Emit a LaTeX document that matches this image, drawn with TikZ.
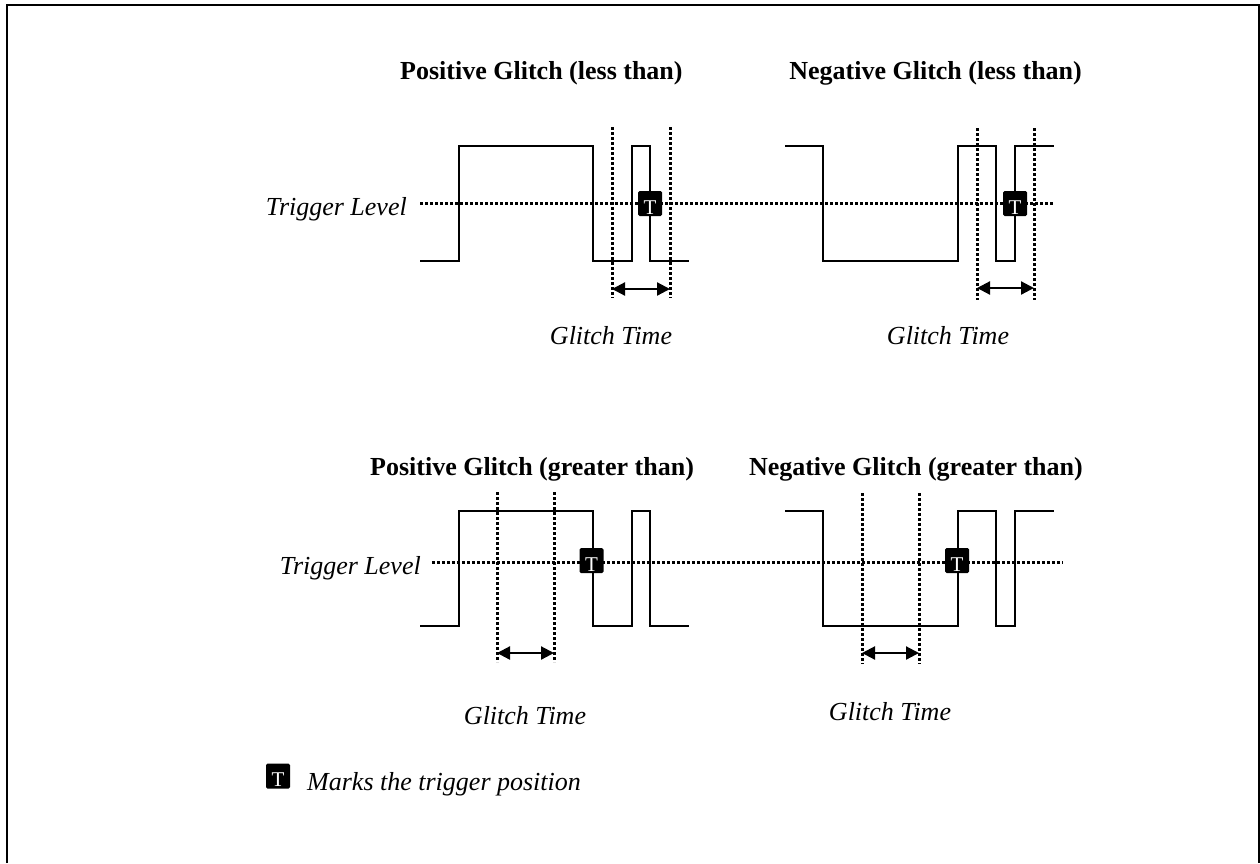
\documentclass[tikz,border=0pt]{standalone}
\usepackage{fontspec}
\setmainfont{Liberation Serif}
\usetikzlibrary{arrows.meta}
\begin{document}
\begin{tikzpicture}[x=1pt,y=-1pt,
  frame/.style={line width=2pt},
  wave/.style={line width=2pt, line join=miter},
  dotline/.style={line width=3pt, dash pattern=on 3pt off 2pt},
  measure/.style={line width=2.2pt, {Triangle[length=13pt,width=13pt]}-{Triangle[length=13pt,width=13pt]}},
  title/.style={font=\fontsize{26}{30}\selectfont\bfseries, inner sep=0pt},
  lbl/.style={font=\fontsize{26}{30}\selectfont\itshape, inner sep=0pt},
  tmark/.style={fill=black, minimum width=24pt, minimum height=25pt, inner sep=0pt,
    rounded corners=1.5pt, text=white, font=\fontsize{21}{21}\selectfont,
    text height=23.4pt, text depth=1.5pt},
]
\useasboundingbox (0,0) rectangle (1260,863);
% frame
\draw[frame] (7,863) -- (7,5) -- (1259,5) -- (1259,863);

% titles
\node[title, anchor=base west] (t1) at (400,79) {Positive Glitch (less than)};
\node[title, anchor=base east] (t2) at (1082,79) {Negative Glitch (less than)};
\node[title, anchor=base west] (t3) at (370,475) {Positive Glitch (greater than)};
\node[title, anchor=base east] (t4) at (1083,475) {Negative Glitch (greater than)};

% trigger level labels and lines
\node[lbl, anchor=base east] (tl1) at (407,215) {Trigger Level};
\node[lbl, anchor=base east] (tl2) at (421,574) {Trigger Level};
\coordinate (tl1e) at (1053,203);
\coordinate (tl2e) at (1063,562);
\draw[dotline] (420,203) -- (tl1e);
\draw[dotline] (432,562) -- (tl2e);

% waveforms
\draw[wave] (420,261) -- (459,261) -- (459,146) -- (593,146) -- (593,261) -- (632,261)
  -- (632,146) -- (650,146) -- (650,261) -- (689,261);
\draw[wave] (785,146) -- (823,146) -- (823,261) -- (958,261) -- (958,146) -- (996,146)
  -- (996,261) -- (1015,261) -- (1015,146) -- (1054,146);
\draw[wave] (420,626) -- (459,626) -- (459,511) -- (593,511) -- (593,626) -- (632,626)
  -- (632,511) -- (650,511) -- (650,626) -- (689,626);
\draw[wave] (785,511) -- (823,511) -- (823,626) -- (958,626) -- (958,511) -- (996,511)
  -- (996,626) -- (1015,626) -- (1015,511) -- (1054,511);

% glitch-time markers (vertical dotted lines)
\coordinate (a1) at (612,289); \coordinate (b1) at (670,289);
\coordinate (a2) at (977,288); \coordinate (b2) at (1034,288);
\coordinate (a3) at (497,653); \coordinate (b3) at (554,653);
\coordinate (a4) at (862,653); \coordinate (b4) at (919,653);
\draw[dotline] (612,127) -- (612,298);
\draw[dotline] (670,127) -- (670,298);
\draw[dotline] (977,128) -- (977,300);
\draw[dotline] (1034,128) -- (1034,300);
\draw[dotline] (497,492) -- (497,662);
\draw[dotline] (554,492) -- (554,662);
\draw[dotline] (862,493) -- (862,664);
\draw[dotline] (919,493) -- (919,664);
\draw[measure] (a1) -- (b1);
\draw[measure] (a2) -- (b2);
\draw[measure] (a3) -- (b3);
\draw[measure] (a4) -- (b4);

% glitch time labels
\node[lbl, anchor=base] (g1) at (611,344) {Glitch Time};
\node[lbl, anchor=base] (g2) at (948,344) {Glitch Time};
\node[lbl, anchor=base] (g3) at (525,724) {Glitch Time};
\node[lbl, anchor=base] (g4) at (890,720) {Glitch Time};

% trigger marks
\node[tmark] (m1) at (650,203.5) {T};
\node[tmark] (m2) at (1015,203.5) {T};
\node[tmark] (m3) at (591.5,560.5) {T};
\node[tmark] (m4) at (957,560.5) {T};

% legend
\node[tmark] (lm) at (278,776) {T};
\node[lbl, anchor=base west] (lt) at (307,790) {Marks the trigger position};
\end{tikzpicture}
\end{document}
